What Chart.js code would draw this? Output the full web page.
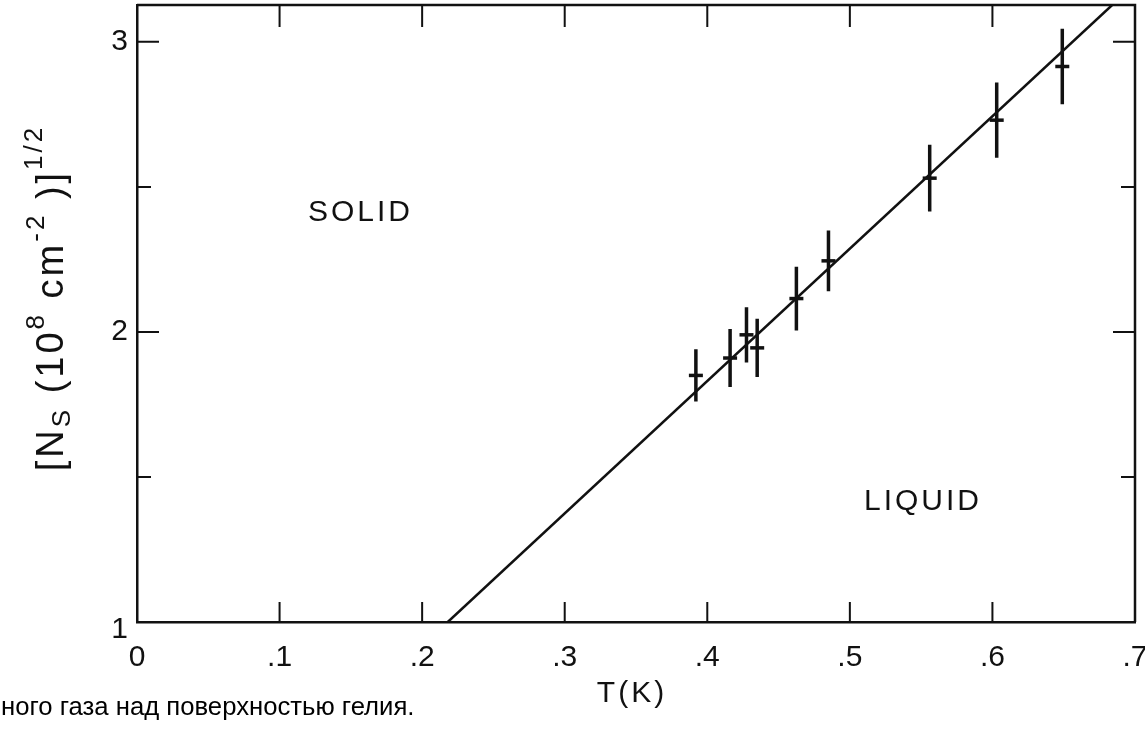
<!DOCTYPE html>
<html>
<head>
<meta charset="utf-8">
<script src="https://cdn.jsdelivr.net/npm/chart.js@4/dist/chart.umd.min.js"></script>
<style>
  html, body { margin: 0; padding: 0; background: #fff; }
</style>
</head>
<body>
<canvas id="phaseChart" width="1145" height="747"></canvas>
<script>
// measured points: T (K) vs sqrt of electron density
const temps = [0.392, 0.416, 0.4275, 0.435, 0.4625, 0.485, 0.556, 0.603, 0.649];
const sqrtDensity = [1.85, 1.91, 1.99, 1.945, 2.115, 2.245, 2.53, 2.73, 2.915];
const errors = [0.09, 0.10, 0.095, 0.10, 0.11, 0.105, 0.115, 0.13, 0.13];

// melting line
const fitT = [0.218, 0.684];
const fitN = [1.0, 3.127];

const xTicks = [0, 0.1, 0.2, 0.3, 0.4, 0.5, 0.6, 0.7];
const xTickLabels = ['0', '.1', '.2', '.3', '.4', '.5', '.6', '.7'];
const yTicks = [1, 1.5, 2, 2.5, 3];
const yTickLabels = ['1', '', '2', '', '3'];

const FONT = "'Liberation Sans', Arial, sans-serif";
const INK = '#111';

// frame, inward ticks, tick labels, error bars and the text
const decorations = {
    id: 'decorations',
    afterDatasetsDraw(chart) {
        const ctx = chart.ctx;
        const { left, right, top, bottom } = chart.chartArea;
        const xs = chart.scales.x;
        const ys = chart.scales.y;
        ctx.save();
        ctx.strokeStyle = INK;
        ctx.lineCap = 'butt';

        ctx.lineWidth = 2.5;
        ctx.beginPath();
        ctx.moveTo(left, top); ctx.lineTo(right, top); ctx.lineTo(right, bottom);
        ctx.stroke();

        ctx.lineWidth = 2;
        ctx.beginPath();
        xTicks.forEach(v => {
            if (v === xTicks[0] || v === xTicks[xTicks.length - 1]) return;
            const px = xs.getPixelForValue(v);
            ctx.moveTo(px, bottom); ctx.lineTo(px, bottom - 20);
            ctx.moveTo(px, top); ctx.lineTo(px, top + 22);
        });
        yTicks.forEach((v, i) => {
            if (v === yTicks[0]) return;
            const py = ys.getPixelForValue(v);
            const len = yTickLabels[i] ? 22 : 14;
            ctx.moveTo(left, py); ctx.lineTo(left + len, py);
            ctx.moveTo(right, py); ctx.lineTo(right - len, py);
        });
        ctx.stroke();

        // error bars
        ctx.lineWidth = 3.5;
        ctx.beginPath();
        temps.forEach((t, i) => {
            const px = xs.getPixelForValue(t);
            ctx.moveTo(px, ys.getPixelForValue(sqrtDensity[i] + errors[i]));
            ctx.lineTo(px, ys.getPixelForValue(sqrtDensity[i] - errors[i]));
        });
        ctx.stroke();

        // tick labels
        ctx.fillStyle = INK;
        ctx.font = '30px ' + FONT;
        ctx.textBaseline = 'middle';
        ctx.textAlign = 'center';
        xTicks.forEach((v, i) => {
            ctx.fillText(xTickLabels[i], xs.getPixelForValue(v), bottom + 36);
        });
        ctx.textAlign = 'right';
        yTicks.forEach((v, i) => {
            const py = ys.getPixelForValue(v) + (v === yTicks[0] ? 8 : 0);
            ctx.fillText(yTickLabels[i], left - 9, py);
        });

        // region labels
        ctx.textAlign = 'left';
        ctx.letterSpacing = '3px';
        ctx.font = '30px ' + FONT;
        ctx.fillText('SOLID', 308, 213);
        ctx.fillText('LIQUID', 864, 502);

        ctx.textAlign = 'center';
        ctx.fillText('T(K)', 632, 694);

        // y title with sub/superscripts
        const parts = [
            { t: '[N', s: 38, dy: 0 },
            { t: 'S', s: 26, dy: 7 },
            { t: ' (10', s: 38, dy: 0 },
            { t: '8', s: 26, dy: -19 },
            { t: ' cm', s: 38, dy: 0 },
            { t: '-2', s: 26, dy: -19 },
            { t: ' )]', s: 38, dy: 0 },
            { t: '1/2', s: 26, dy: -21 }
        ];
        let total = 0;
        parts.forEach(p => { ctx.font = p.s + 'px ' + FONT; p.w = ctx.measureText(p.t).width; total += p.w; });
        ctx.translate(63, 298);
        ctx.rotate(-Math.PI / 2);
        ctx.textAlign = 'left';
        ctx.textBaseline = 'alphabetic';
        let cx = -total / 2;
        parts.forEach(p => {
            ctx.font = p.s + 'px ' + FONT;
            ctx.fillText(p.t, cx, p.dy);
            cx += p.w;
        });
        ctx.restore();

        // caption fragment from the source page
        ctx.save();
        ctx.fillStyle = '#000';
        ctx.font = '25.7px ' + FONT;
        ctx.textBaseline = 'middle';
        ctx.fillText('ного газа над поверхностью гелия.', 1, 708);
        ctx.restore();
    }
};

const ctx = document.getElementById('phaseChart').getContext('2d');
const phaseChart = new Chart(ctx, {
    type: 'scatter',
    data: {
        datasets: [{
            type: 'line',
            data: fitT.map((t, i) => ({ x: t, y: fitN[i] })),
            borderColor: INK,
            borderWidth: 2.5,
            pointRadius: 0,
            fill: false
        }, {
            data: temps.map((t, i) => ({ x: t, y: sqrtDensity[i] })),
            pointStyle: 'line',
            pointRadius: 7,
            borderColor: INK,
            backgroundColor: INK,
            borderWidth: 3.5
        }]
    },
    options: {
        responsive: false,
        animation: false,
        layout: { autoPadding: false, padding: { top: 5, right: 10, left: 0, bottom: 0 } },
        plugins: {
            legend: { display: false },
            tooltip: { enabled: false }
        },
        scales: {
            x: {
                type: 'linear',
                min: 0,
                max: 0.7,
                afterBuildTicks: scale => { scale.ticks = xTicks.map(v => ({ value: v })); },
                afterFit: scale => { scale.height = 125; },
                grid: { display: false, drawTicks: false },
                border: { display: true, color: INK, width: 2.5 },
                ticks: { display: false }
            },
            y: {
                min: 1,
                max: 3.127,
                afterBuildTicks: scale => { scale.ticks = yTicks.map(v => ({ value: v })); },
                afterFit: scale => { scale.width = 137; },
                grid: { display: false, drawTicks: false },
                border: { display: true, color: INK, width: 2.5 },
                ticks: { display: false }
            }
        }
    },
    plugins: [decorations]
});
</script>
</body>
</html>
